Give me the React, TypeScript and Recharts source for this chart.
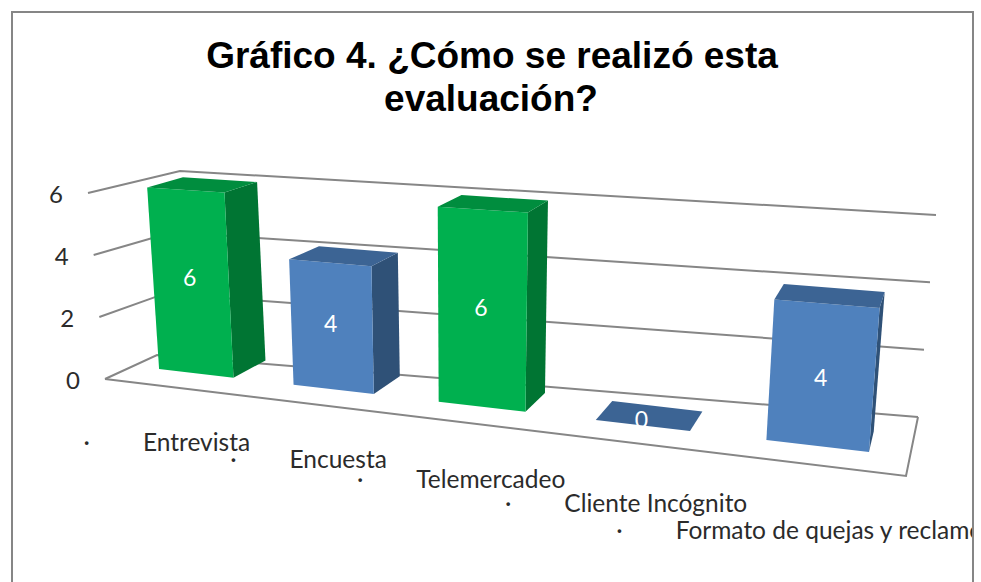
import { BarChart, Bar, XAxis, YAxis, CartesianGrid, LabelList } from "recharts"

const categories = ["Entrevista", "Encuesta", "Telemercadeo", "Cliente Incógnito", "Formato de quejas y reclamos"]
const respuestas = [6, 4, 6, 0, 4]
const yTicks = [0, 2, 4, 6]

const data = categories.map((name, i) => ({ name, value: respuestas[i] }))

const GREEN = { front: "#00b04f", side: "#007533", top: "#008d3e" }
const BLUE = { front: "#4f81bd", side: "#2f5177", top: "#3c6494" }
const barColors = [GREEN, BLUE, GREEN, BLUE, BLUE]

const GRID = "#868686"
const TEXT = "#2b2b2b"
const LABEL_FONT = "Lato, sans-serif"
const TITLE_FONT = "'Liberation Sans', Arial, sans-serif"

// the flat plot recharts lays out; everything gets projected from it
const PLOT = { left: 100, right: 900, top: 100, bottom: 400 }
const PW = PLOT.right - PLOT.left
const PH = PLOT.bottom - PLOT.top

type Pt = [number, number]
type Cage = { f00: Pt; f10: Pt; f01: Pt; f11: Pt; b00: Pt; b10: Pt; b01: Pt; b11: Pt }

// screen corners: f/b = front/back, then t (0 left, 1 right), then v (0 floor, 1 top)
const barCage: Cage = {
  f00: [130.8, 365.7], f10: [910, 456.8], f01: [117.8, 185.5], f11: [927.5, 239],
  b00: [167.2, 349], b10: [913, 436], b01: [154.8, 175.5], b11: [931, 225],
}
const wallCage: Cage = {
  f00: [105, 379], f10: [906, 476], f01: [88, 193], f11: [950, 290],
  b00: [157, 355], b10: [918, 417], b01: [180, 171], b11: [936, 215],
}

const mix = (a: Pt, b: Pt, k: number): Pt => [a[0] + (b[0] - a[0]) * k, a[1] + (b[1] - a[1]) * k]

function project(c: Cage, t: number, v: number, d: number): Pt {
  const front = mix(mix(c.f00, c.f10, t), mix(c.f01, c.f11, t), v)
  const back = mix(mix(c.b00, c.b10, t), mix(c.b01, c.b11, t), v)
  return mix(front, back, d)
}

// perspective along the category axis
const screenX = (u: number) => (612.2 * u + 130.8) / (1 - 0.182 * u)
const warp = (u: number) => (screenX(u) - 130.8) / 777.5

const toU = (x: number) => (x - PLOT.left) / PW
const toV = (y: number) => (PLOT.bottom - y) / PH
const pts = (list: Pt[]) => list.map((p) => p.join(",")).join(" ")

function Bar3D({ x, y, width, index }: any) {
  const t0 = warp(toU(x))
  const t1 = warp(toU(x + width))
  const v = toV(y)
  const p = (t: number, vv: number, d: number) => project(barCage, t, vv, d)
  const col = barColors[index]
  return (
    <g>
      <polygon points={pts([p(t1, 0, 0), p(t1, 0, 1), p(t1, v, 1), p(t1, v, 0)])} fill={col.side} />
      <polygon points={pts([p(t0, 0, 0), p(t1, 0, 0), p(t1, v, 0), p(t0, v, 0)])} fill={col.front} />
      <polygon points={pts([p(t0, v, 0), p(t1, v, 0), p(t1, v, 1), p(t0, v, 1)])} fill={col.top} />
    </g>
  )
}

function BarValue({ x, y, width, value }: any) {
  const u = toU(x + width / 2)
  const [cx, cy] = project(barCage, warp(u), toV(y) / 2, 0)
  // the zero bar has no front face, so its label sits on the top face
  const dy = value === 0 ? -7 : -5 + 8 * u
  return (
    <text x={cx - 1} y={cy + dy} fill="#fff" fontFamily={LABEL_FONT} fontSize={23} textAnchor="middle" dominantBaseline="central">
      {value}
    </text>
  )
}

function GridLine({ y1 }: any) {
  const v = toV(y1)
  const front = project(wallCage, 0, v, 0)
  const corner = project(wallCage, 0, v, 1)
  const right = project(wallCage, 1, v, 1)
  const isFloor = v < 0.001
  return (
    <g fill="none" stroke={GRID} strokeWidth={2}>
      <polyline points={pts([front, corner, right])} />
      {isFloor && <polyline points={pts([front, project(wallCage, 1, 0, 0), right])} />}
    </g>
  )
}

function ValueTick({ y, payload }: any) {
  const [px, py] = project(wallCage, 0, toV(y), 0)
  return (
    <text x={px - 32} y={py} fill={TEXT} fontFamily={LABEL_FONT} fontSize={24} textAnchor="middle" dominantBaseline="central">
      {payload.value}
    </text>
  )
}

function CategoryTick({ x, payload }: any) {
  const u = toU(x)
  const cx = screenX(u) - 31 + 23 * u
  const cy = 379 + 0.1211 * (cx - 105) + 54 + 16 * u * u * u
  return (
    <text x={cx} y={cy} fill={TEXT} fontFamily={LABEL_FONT} fontSize={24.5} textAnchor="middle" dominantBaseline="central">
      <tspan>·</tspan>
      <tspan dx={53}>{payload.value}</tspan>
    </text>
  )
}

export default function App() {
  return (
    <div style={{ position: "absolute", left: 0, top: 0, width: 981, height: 582, overflow: "hidden", background: "#fff" }}>
      <div style={{ position: "absolute", left: 11, top: 11, width: 963, height: 620, border: `2px solid ${GRID}`, boxSizing: "border-box" }} />
      <div style={{ position: "absolute", left: 0, top: 0 }}>
        <BarChart
          width={972}
          height={582}
          data={data}
          margin={{ left: 40, right: 72, top: PLOT.top, bottom: 152 }}
          barCategoryGap="22%"
        >
          <text x={492} y={67.5} textAnchor="middle" fontFamily={TITLE_FONT} fontWeight="bold" fontSize={37} fill="#000">
            Gráfico 4. ¿Cómo se realizó esta
          </text>
          <text x={491} y={110.5} textAnchor="middle" fontFamily={TITLE_FONT} fontWeight="bold" fontSize={37} fill="#000">
            evaluación?
          </text>
          <CartesianGrid vertical={false} horizontal={GridLine} />
          <XAxis dataKey="name" axisLine={false} tickLine={false} interval={0} height={30} tick={CategoryTick} />
          <YAxis domain={[0, 6]} ticks={yTicks} axisLine={false} tickLine={false} width={60} tick={ValueTick} />
          <Bar dataKey="value" shape={Bar3D} isAnimationActive={false}>
            <LabelList dataKey="value" content={BarValue} />
          </Bar>
        </BarChart>
      </div>
    </div>
  )
}
